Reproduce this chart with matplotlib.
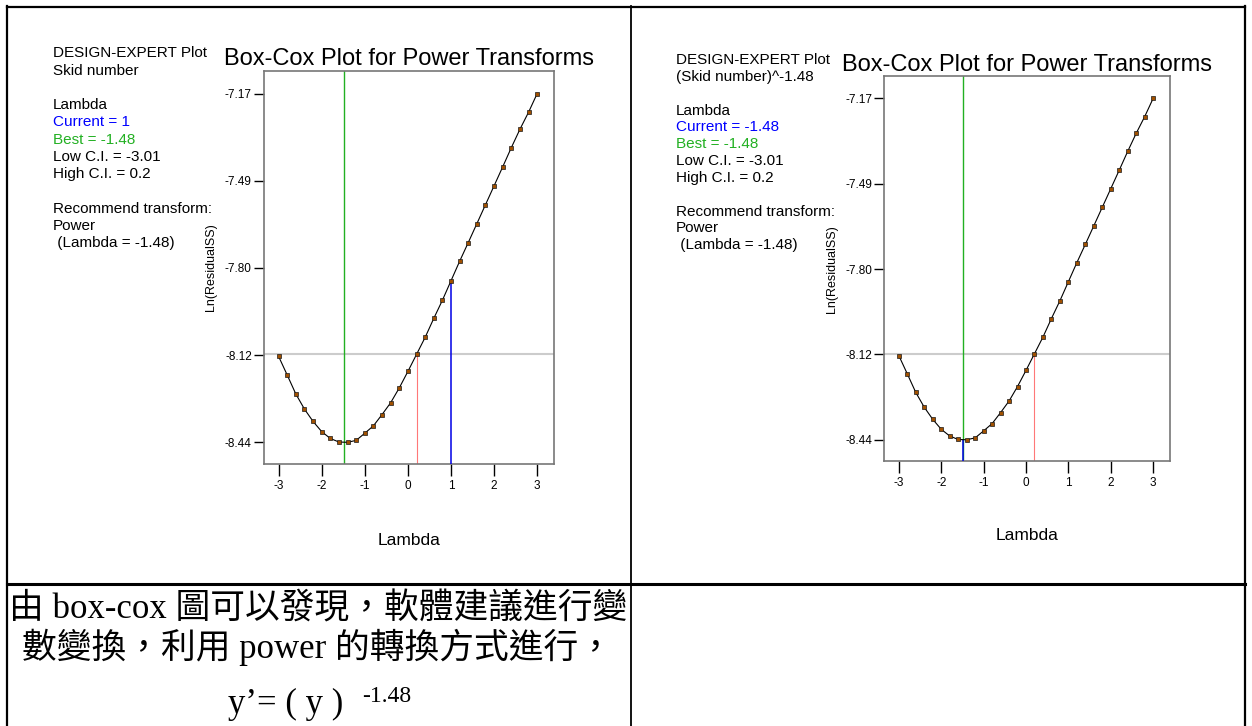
import matplotlib
matplotlib.use('Agg')
import matplotlib.pyplot as plt
import numpy as np

plt.rcParams['font.family'] = ['Liberation Sans', 'DejaVu Sans']

# box-cox curve (same curve in both panels)
lam = [-3.0, -2.8, -2.6, -2.4, -2.2, -2.0, -1.8, -1.6, -1.4, -1.2, -1.0,
       -0.8, -0.6, -0.4, -0.2, 0.0, 0.2, 0.4, 0.6, 0.8, 1.0,
       1.2, 1.4, 1.6, 1.8, 2.0, 2.2, 2.4, 2.6, 2.8, 3.0]
ln_ss = [-8.127, -8.195, -8.264, -8.319, -8.364, -8.401, -8.426, -8.439, -8.440, -8.433, -8.407,
         -8.380, -8.339, -8.296, -8.242, -8.182, -8.120, -8.058, -7.989, -7.923, -7.852,
         -7.781, -7.713, -7.644, -7.575, -7.506, -7.437, -7.367, -7.300, -7.238, -7.170]

best_lambda = -1.48
low_ci = -3.01
high_ci = 0.2
ci_level = -8.12
current = [1, -1.48]
responses = ['Skid number', '(Skid number)^-1.48']

xtick_vals = [-3, -2, -1, 0, 1, 2, 3]
ytick_vals = [-8.44, -8.1225, -7.805, -7.4875, -7.17]
ytick_labels = ['-8.44', '-8.12', '-7.80', '-7.49', '-7.17']

line1 = '由 box-cox 圖可以發現，軟體建議進行變'
line2 = '數變換，利用 power 的轉換方式進行，'
line3 = 'y’= ( y )'
line3_sup = '-1.48'

BLUE = '#0000ff'
GREEN = '#22b022'

W, H = 1252, 726
fig = plt.figure(figsize=(W / 100, H / 100), dpi=100)
fig.patch.set_facecolor('white')

# background axes in pixel units for the table and the side texts
bg = fig.add_axes([0, 0, 1, 1], zorder=0)
bg.set_xlim(0, W)
bg.set_ylim(H, 0)
bg.axis('off')

# table borders
bg.plot([7, 1245], [6.7, 6.7], color='black', lw=1.6)
bg.plot([7, 7], [6, H], color='black', lw=1.6)
bg.plot([1245, 1245], [6, H], color='black', lw=1.6)
bg.plot([630.5, 630.5], [6, H], color='black', lw=1.3)
bg.plot([7, 1245], [583.5, 583.5], color='black', lw=2.2)


def px_axes(l, t, r, b):
    return fig.add_axes([l / W, 1 - b / H, (r - l) / W, (b - t) / H], zorder=1)


panels = [
    dict(box=(263.5, 71, 554, 464), tx=53, ty=53.3, step=17.27),
    dict(box=(884, 76.3, 1169.7, 461), tx=676, ty=60, step=16.85),
]

ylo, yhi = -8.519, -7.088

for p, cur, resp in zip(panels, current, responses):
    ax = px_axes(*p['box'])
    ax.set_xlim(-3.35, 3.39)
    ax.set_ylim(ylo, yhi)

    ax.axhline(ci_level, color='#cccccc', lw=1.5, zorder=1)
    ax.axvline(best_lambda, color=GREEN, lw=1.0, zorder=2)
    ax.vlines(high_ci, ylo, np.interp(high_ci, lam, ln_ss), color='#ff7878', lw=0.8, zorder=2)
    ax.vlines(cur, ylo, np.interp(cur, lam, ln_ss), color='#0000e6', lw=1.1, zorder=3)
    ax.plot(lam, ln_ss, color='black', lw=0.8, marker='s', ms=2.3,
            mfc='#a05000', mec='#1a1a1a', mew=0.5, zorder=5)

    ax.set_xticks(xtick_vals)
    ax.set_xticklabels([str(v) for v in xtick_vals])
    ax.set_yticks(ytick_vals)
    ax.set_yticklabels(ytick_labels)
    ax.tick_params(axis='x', direction='out', length=8.6, width=1.0, pad=3, labelsize=8.5)
    ax.tick_params(axis='y', direction='out', length=6.9, width=1.0, pad=1.5, labelsize=8.5)
    for s in ax.spines.values():
        s.set_color('#777777')
        s.set_linewidth(1.2)

    ax.set_title('Box-Cox Plot for Power Transforms', fontsize=17, pad=4)
    ax.set_xlabel('Lambda', fontsize=12.5)
    ax.xaxis.set_label_coords(0.5, -0.175)
    ax.set_ylabel('Ln(ResidualSS)', fontsize=9)
    ax.yaxis.set_label_coords(-0.16, 0.5)

    info = [
        ('DESIGN-EXPERT Plot', 'black'),
        (resp, 'black'),
        ('', 'black'),
        ('Lambda', 'black'),
        (f'Current = {cur:g}', BLUE),
        (f'Best = {best_lambda:g}', GREEN),
        (f'Low C.I. = {low_ci:g}', 'black'),
        (f'High C.I. = {high_ci:g}', 'black'),
        ('', 'black'),
        ('Recommend transform:', 'black'),
        ('Power', 'black'),
        (f' (Lambda = {best_lambda:g})', 'black'),
    ]
    for i, (s, c) in enumerate(info):
        bg.text(p['tx'], p['ty'] + i * p['step'], s, color=c, fontsize=11,
                ha='left', va='center')

# bottom cell text
fam = ['Liberation Serif', 'Noto Sans CJK TC']
bg.text(318, 619, line1, fontsize=25, family=fam, ha='center', va='baseline')
bg.text(318, 658, line2, fontsize=25, family=fam, ha='center', va='baseline')
bg.text(228, 713, line3, fontsize=25, family=fam, ha='left', va='baseline')
bg.text(362, 701.5, line3_sup, fontsize=17, family=fam, ha='left', va='baseline')

fig.savefig('out.png', dpi=100, facecolor='white')
